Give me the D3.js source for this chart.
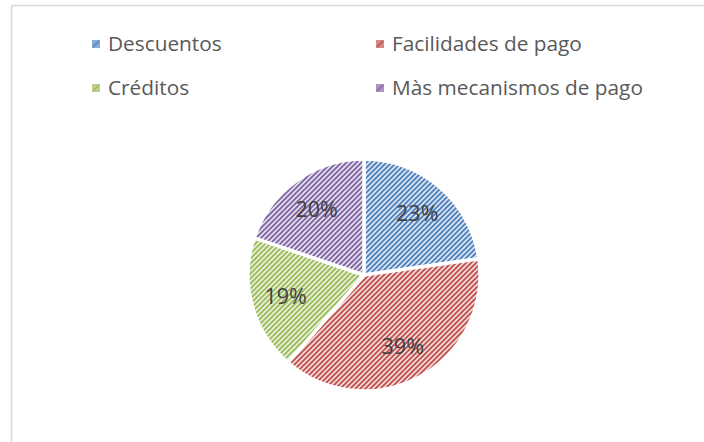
<!DOCTYPE html>
<meta charset="utf-8">
<script src="https://d3js.org/d3.v7.min.js"></script>
<style>
body { margin: 0; background: #fff; }
text { font-family: "Open Sans", sans-serif; }
</style>
<div id="chart"></div>
<script>

// data (percent shares)
var categories = ["Descuentos", "Facilidades de pago", "Créditos", "Màs mecanismos de pago"];
var values = [23, 39, 19, 20];
var lineColors = ["#4f81bd", "#c0504d", "#9bbb59", "#8064a2"];
var fillColors = ["#dbe5f3", "#f3dddc", "#ebf1de", "#e6e0ee"];

var width = 704, height = 442;

var svg = d3.select("#chart").append("svg")
  .attr("width", width)
  .attr("height", height);

// hatch patterns, one per slice
var defs = svg.append("defs");
categories.forEach(function(c, i) {
  var p = defs.append("pattern")
    .attr("id", "hatch" + i)
    .attr("patternUnits", "userSpaceOnUse")
    .attr("width", 5)
    .attr("height", 5);
  p.append("rect")
    .attr("width", 5).attr("height", 5)
    .attr("fill", fillColors[i]);
  p.append("path")
    .attr("d", "M-1,6 L6,-1 M-1,1 L1,-1 M4,6 L6,4")
    .attr("stroke", lineColors[i])
    .attr("stroke-width", 1.9);
});

// chart frame
svg.append("rect")
  .attr("x", 11.5).attr("y", 5.5)
  .attr("width", 720).attr("height", 460)
  .attr("fill", "none")
  .attr("stroke", "#d9d9d9")
  .attr("stroke-width", 1.5);

// legend, two columns
var legendX = d3.scaleOrdinal().domain([0, 1]).range([92, 376]);
var legendY = d3.scaleOrdinal().domain([0, 1]).range([44, 88]);

var legend = svg.append("g").selectAll("g")
  .data(categories)
  .join("g")
    .attr("transform", function(d, i) {
      return "translate(" + legendX(i % 2) + "," + legendY(Math.floor(i / 2)) + ")";
    });

legend.append("rect")
  .attr("x", 0).attr("y", -4)
  .attr("width", 8).attr("height", 8)
  .attr("fill", function(d, i) { return d3.interpolateRgb(fillColors[i], lineColors[i])(0.6); });

legend.append("path")
  .attr("d", "M1,3 L7,-3")
  .attr("stroke", function(d, i) { return lineColors[i]; })
  .attr("stroke-width", 1.5);

legend.append("text")
  .attr("x", 16)
  .attr("y", 7)
  .attr("fill", "#595959")
  .style("font-size", "20.8px")
  .text(function(d) { return d; });

// pie
var cx = 364, cy = 275, r = 116;
var total = d3.sum(values);

var pie = d3.pie().sort(null).value(function(d) { return d; });
var arc = d3.arc().innerRadius(0).outerRadius(r);
var labelArc = d3.arc().innerRadius(r * 0.7).outerRadius(r * 0.7);

var g = svg.append("g")
  .attr("transform", "translate(" + cx + "," + cy + ")");

var slices = pie(values);

g.selectAll("path")
  .data(slices)
  .join("path")
    .attr("d", arc)
    .attr("fill", function(d, i) { return "url(#hatch" + i + ")"; })
    .attr("stroke", "#fff")
    .attr("stroke-width", 3.5)
    .attr("stroke-linejoin", "round");

g.selectAll("text")
  .data(slices)
  .join("text")
    .attr("transform", function(d) { return "translate(" + labelArc.centroid(d) + ")"; })
    .attr("text-anchor", "middle")
    .attr("dy", "0.35em")
    .attr("fill", "#404040")
    .style("font-size", "21.5px")
    .text(function(d) { return Math.round(d.value / total * 100) + "%"; });

</script>
